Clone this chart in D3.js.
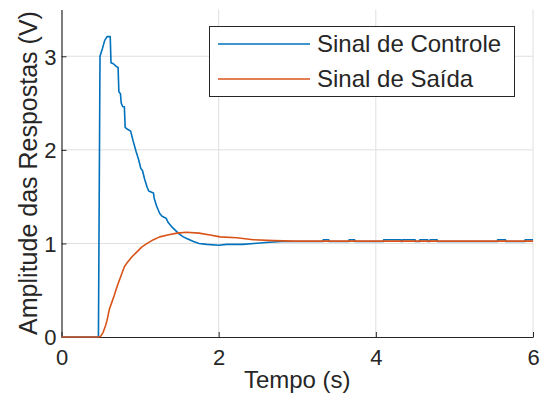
<!DOCTYPE html>
<html>
<head>
<meta charset="utf-8">
<script src="https://cdn.jsdelivr.net/npm/d3@7"></script>
<style>
  body { margin: 0; background: #fff; }
  text { font-family: "Liberation Sans", Arial, sans-serif; fill: #262626; }
</style>
</head>
<body>
<div class="chart"></div>
<script>
var svgWidth = 542;
var svgHeight = 404;

// tempo (s), tensao (V)
var controleT = [0, 0.47, 0.49, 0.52, 0.55, 0.58, 0.62, 0.63, 0.66, 0.70, 0.72, 0.73, 0.75, 0.76, 0.78, 0.80,
  0.81, 0.84, 0.88, 0.91, 0.95, 0.98, 1.01, 1.03, 1.06, 1.09, 1.11, 1.14, 1.17, 1.18, 1.21, 1.25, 1.28, 1.33,
  1.36, 1.40, 1.45, 1.50, 1.55, 1.60, 1.68, 1.75, 1.85, 2.00, 2.10, 2.30, 2.45, 2.60, 2.80, 2.95,
  3.33, 3.33, 3.40, 3.40, 3.66, 3.66, 3.73, 3.73, 4.10, 4.10, 4.32, 4.32, 4.34, 4.34, 4.50, 4.50,
  4.56, 4.56, 4.66, 4.66, 4.69, 4.69, 4.78, 4.78, 5.55, 5.55, 5.65, 5.65, 5.90, 5.90, 6.00];
var controleV = [0, 0, 3.0, 3.08, 3.17, 3.21, 3.21, 2.93, 2.92, 2.89, 2.88, 2.62, 2.60, 2.50, 2.46, 2.46,
  2.24, 2.22, 2.20, 2.10, 1.98, 1.90, 1.80, 1.78, 1.68, 1.60, 1.56, 1.55, 1.54, 1.48, 1.40, 1.32, 1.29, 1.27,
  1.22, 1.18, 1.14, 1.10, 1.07, 1.05, 1.02, 1.00, 0.99, 0.98, 0.99, 0.99, 1.00, 1.01, 1.02, 1.02,
  1.02, 1.04, 1.04, 1.02, 1.02, 1.04, 1.04, 1.02, 1.02, 1.04, 1.04, 1.02, 1.02, 1.04, 1.04, 1.02,
  1.02, 1.04, 1.04, 1.02, 1.02, 1.04, 1.04, 1.02, 1.02, 1.04, 1.04, 1.02, 1.02, 1.04, 1.04];

var saidaT = [0, 0.48, 0.50, 0.53, 0.56, 0.58, 0.61, 0.64, 0.67, 0.70, 0.72, 0.76, 0.80, 0.84, 0.90, 0.96,
  1.02, 1.09, 1.17, 1.25, 1.35, 1.47, 1.59, 1.75, 1.89, 2.02, 2.23, 2.44, 2.70, 2.95, 6.00];
var saidaV = [0, 0, 0.01, 0.05, 0.12, 0.18, 0.30, 0.37, 0.44, 0.52, 0.57, 0.66, 0.75, 0.80, 0.86, 0.91,
  0.96, 1.00, 1.04, 1.07, 1.09, 1.11, 1.12, 1.11, 1.09, 1.07, 1.06, 1.04, 1.03, 1.025, 1.025];

var seriesNames = ["Sinal de Controle", "Sinal de Saída"];
var seriesColors = ["#0072BD", "#D95319"];
var xTicks = [0, 2, 4, 6];
var yTicks = [0, 1, 2, 3];

var svg = d3.select(".chart").append("svg")
  .attr("width", svgWidth)
  .attr("height", svgHeight);

var x = d3.scaleLinear().domain([0, 6]).range([61.5, 533]);
var y = d3.scaleLinear().domain([0, 3.5]).range([337, 9.5]);

// grid
svg.append("g").selectAll("line").data(xTicks.slice(1)).enter().append("line")
  .attr("x1", function(d) { return x(d); }).attr("x2", function(d) { return x(d); })
  .attr("y1", y(3.5)).attr("y2", y(0))
  .attr("stroke", "#dfdfdf").attr("stroke-width", 1);
svg.append("g").selectAll("line").data(yTicks.slice(1)).enter().append("line")
  .attr("x1", x(0)).attr("x2", x(6))
  .attr("y1", function(d) { return y(d); }).attr("y2", function(d) { return y(d); })
  .attr("stroke", "#dfdfdf").attr("stroke-width", 1);

// axes
var bottomAxis = d3.axisBottom(x).tickValues(xTicks).tickFormat(d3.format("d"))
  .tickSizeInner(-5).tickSizeOuter(0).tickPadding(12);
var leftAxis = d3.axisLeft(y).tickValues(yTicks).tickFormat(d3.format("d"))
  .tickSizeInner(-5).tickSizeOuter(0).tickPadding(5);

var gx = svg.append("g").attr("transform", "translate(0," + y(0) + ")").call(bottomAxis);
var gy = svg.append("g").attr("transform", "translate(" + x(0) + ",0)").call(leftAxis);
[gx, gy].forEach(function(g) {
  g.select(".domain").attr("stroke", "#262626").attr("stroke-width", 1.2);
  g.selectAll(".tick line").attr("stroke", "#262626");
  g.selectAll(".tick text").style("font-size", "22px").attr("fill", "#262626")
    .style("font-family", "'Liberation Sans', Arial, sans-serif");
});
gx.selectAll(".tick text").attr("dy", "0.71em");
gy.selectAll(".tick text").attr("dy", "0.36em");

// lines
var series = [
  d3.zip(controleT, controleV),
  d3.zip(saidaT, saidaV)
];
var line = d3.line()
  .x(function(d) { return x(d[0]); })
  .y(function(d) { return y(d[1]); });

series.forEach(function(s, i) {
  svg.append("path")
    .datum(s)
    .attr("d", line)
    .attr("fill", "none")
    .attr("stroke", seriesColors[i])
    .attr("stroke-width", 1.6)
    .attr("stroke-linejoin", "round");
});

// labels
svg.append("text")
  .attr("x", (x(0) + x(6)) / 2)
  .attr("y", 388)
  .attr("text-anchor", "middle")
  .style("font-size", "24px")
  .text("Tempo (s)");

svg.append("text")
  .attr("transform", "translate(37," + 173 + ") rotate(-90)")
  .attr("text-anchor", "middle")
  .style("font-size", "25px")
  .text("Amplitude das Respostas (V)");

// legend
var legend = svg.append("g");
legend.append("rect")
  .attr("x", 209.5).attr("y", 26.5)
  .attr("width", 305).attr("height", 70)
  .attr("fill", "#fff").attr("stroke", "#262626").attr("stroke-width", 1);

seriesNames.forEach(function(name, i) {
  var ly = 44 + i * 35;
  legend.append("line")
    .attr("x1", 218).attr("x2", 310)
    .attr("y1", ly).attr("y2", ly)
    .attr("stroke", seriesColors[i]).attr("stroke-width", 1.6);
  legend.append("text")
    .attr("x", 317).attr("y", ly)
    .attr("dy", "0.35em")
    .style("font-size", "24px")
    .text(name);
});
</script>
</body>
</html>
